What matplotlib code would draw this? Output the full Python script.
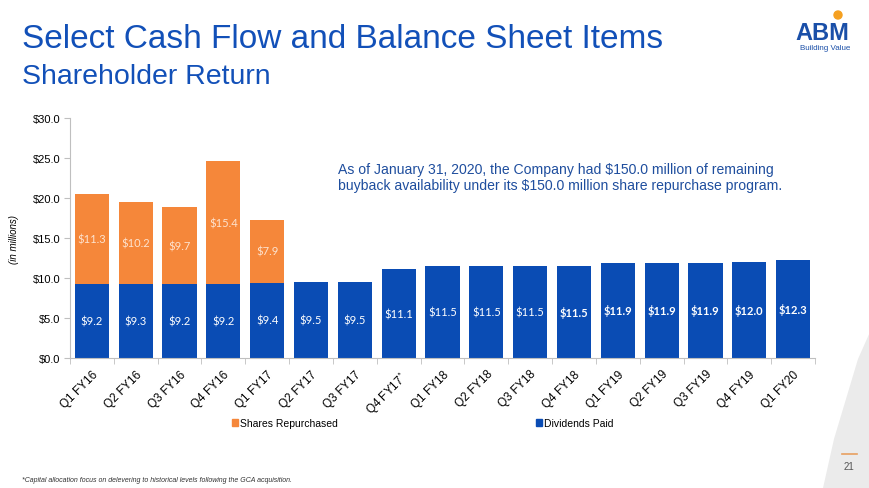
import matplotlib.pyplot as plt
from matplotlib.patches import Patch, Polygon, Ellipse
import numpy as np

plt.rcParams['font.family'] = ['Liberation Sans', 'DejaVu Sans']
plt.rcParams['mathtext.default'] = 'regular'

# data (in $ millions)
quarters = ['Q1 FY16', 'Q2 FY16', 'Q3 FY16', 'Q4 FY16', 'Q1 FY17', 'Q2 FY17', 'Q3 FY17',
            'Q4 FY17$^{*}$', 'Q1 FY18', 'Q2 FY18', 'Q3 FY18', 'Q4 FY18', 'Q1 FY19', 'Q2 FY19',
            'Q3 FY19', 'Q4 FY19', 'Q1 FY20']
dividends = [9.2, 9.3, 9.2, 9.2, 9.4, 9.5, 9.5, 11.1, 11.5, 11.5, 11.5, 11.5, 11.9, 11.9,
             11.9, 12.0, 12.3]
repurchased = [11.3, 10.2, 9.7, 15.4, 7.9, 0, 0, 0, 0, 0, 0, 0, 0, 0, 0, 0, 0]
bold_from = 11

blue = '#0A4CB4'
orange = '#F5873A'
title_blue = '#1250B8'

fig = plt.figure(figsize=(8.7, 4.89), dpi=100)

# grey swoosh bottom right
sw_y = [333, 360, 400, 440, 489]
sw_x = [870, 858, 846, 834, 823]
pts = [(px / 870, 1 - py / 489) for px, py in zip(sw_x, sw_y)] + [(1, 0)]
fig.patches.append(Polygon(pts, closed=True, transform=fig.transFigure,
                           facecolor='#ebebeb', edgecolor='none', zorder=0))

ax = fig.add_axes([70 / 870, 130 / 489, 745 / 870, 240 / 489])
ax.patch.set_alpha(0)
x = np.arange(len(quarters))
w = 0.78
ax.bar(x, dividends, w, color=blue, label='Dividends Paid', zorder=2)
ax.bar(x, repurchased, w, bottom=dividends, color=orange, label='Shares Repurchased', zorder=2)

for i in range(len(quarters)):
    ax.text(x[i], dividends[i] / 2, '$%.1f' % dividends[i], ha='center', va='center',
            color='white', fontsize=8, family='Lato',
            fontweight='bold' if i >= bold_from else 'normal')
    if repurchased[i] > 0:
        ax.text(x[i], dividends[i] + repurchased[i] / 2, '$%.1f' % repurchased[i],
                ha='center', va='center', color='#fde3cf', fontsize=8, family='Lato')

ax.set_xlim(-0.5, len(quarters) - 0.5)
ax.set_ylim(0, 30)
ax.set_yticks(np.arange(0, 31, 5))
ax.set_yticklabels(['$%.1f' % v for v in np.arange(0, 31, 5)], fontsize=8)
ax.set_xticks(x)
ax.set_xticklabels(quarters, rotation=45, ha='right', rotation_mode='anchor', fontsize=8.5)
ax.set_xticks(np.arange(-0.5, len(quarters)), minor=True)
ax.tick_params(axis='x', which='major', length=0, pad=7)
ax.tick_params(axis='x', which='minor', length=4, color='#bfbfbf')
ax.tick_params(axis='y', length=4, color='#bfbfbf', pad=3)
for s in ['top', 'right']:
    ax.spines[s].set_visible(False)
for s in ['left', 'bottom']:
    ax.spines[s].set_color('#bfbfbf')
ax.set_ylabel('(in millions)', fontsize=7, style='italic', labelpad=10)

fig.text(338 / 870, 1 - 178 / 489,
         'As of January 31, 2020, the Company had \\$150.0 million of remaining\n'
         'buyback availability under its \\$150.0 million share repurchase program.',
         fontsize=10.1, color='#1F4E9E', va='center', ha='left', linespacing=1.2)

handles = [Patch(color=orange), Patch(color=blue)]
fig.legend(handles, ['Shares Repurchased', 'Dividends Paid'], ncol=2, frameon=False,
           loc='center', bbox_to_anchor=(423 / 870, 1 - 424 / 489), fontsize=7.5,
           handlelength=0.6, handleheight=0.6, handletextpad=0.2, columnspacing=19)

# titles
fig.text(22 / 870, 1 - 48 / 489, 'Select Cash Flow and Balance Sheet Items',
         fontsize=24, color=title_blue, va='baseline')
fig.text(22 / 870, 1 - 84 / 489, 'Shareholder Return', fontsize=20.5, color=title_blue,
         va='baseline')

# logo
fig.text(849 / 870, 1 - 40 / 489, 'ABM', fontsize=17, fontweight='bold', color='#1a4fa8',
         ha='right', va='baseline')
fig.text(850 / 870, 1 - 50 / 489, 'Building Value', fontsize=5.8, color='#1a4fa8',
         ha='right', va='baseline')
fig.patches.append(Ellipse((838 / 870, 1 - 16 / 489), 8 / 870, 8 / 489,
                           transform=fig.transFigure, color='#F5A020'))

# footer
fig.text(22 / 870, 1 - 481 / 489,
         '*Capital allocation focus on delevering to historical levels following the GCA acquisition.',
         fontsize=5, style='italic', color='#333333', va='center')
fig.text(849 / 870, 1 - 467 / 489, '21', fontsize=7, color='#555555', ha='center', va='center')
fig.add_artist(plt.Line2D([842 / 870, 857 / 870], [1 - 455 / 489, 1 - 455 / 489],
                          color='#e8a060', lw=1.2))

fig.savefig('out.png', dpi=100)
